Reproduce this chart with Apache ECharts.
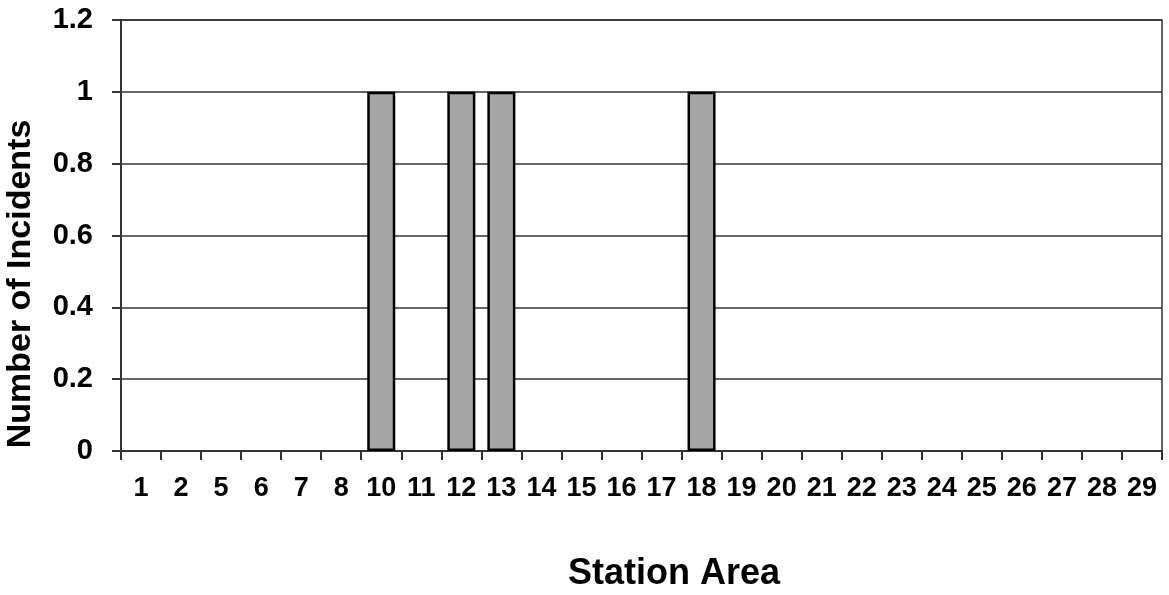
<!DOCTYPE html>
<html>
<head>
<meta charset="utf-8">
<script src="https://cdn.jsdelivr.net/npm/echarts@6/dist/echarts.min.js"></script>
<style>
  html, body { margin: 0; padding: 0; background: #fff; }
  #chart { width: 1169px; height: 595px; }
</style>
</head>
<body>
<div id="chart"></div>
<script>
// station areas along the bottom
var stations = ['1','2','5','6','7','8','10','11','12','13','14','15','16','17','18','19','20','21','22','23','24','25','26','27','28','29'];
// number of incidents per station area
var incidents = [0,0,0,0,0,0,1,0,1,1,0,0,0,0,1,0,0,0,0,0,0,0,0,0,0,0];

var mychart = echarts.init(document.getElementById('chart'));

var option = {
    animation: false,
    backgroundColor: '#fff',
    grid: {
        left: 121,
        right: 7,
        top: 20,
        bottom: 144,
        show: true,
        borderColor: '#333',
        borderWidth: 1.5
    },
    // axis titles, placed like the original (y title sits below the middle)
    graphic: [
        {
            type: 'text',
            x: 674,
            y: 574,
            style: {
                text: 'Station Area',
                fill: '#000',
                font: 'bold 36px "Liberation Sans"',
                textAlign: 'center',
                textVerticalAlign: 'middle'
            }
        },
        {
            type: 'text',
            x: 21,
            y: 284,
            rotation: Math.PI / 2,
            style: {
                text: 'Number of Incidents',
                fill: '#000',
                font: 'bold 34px "Liberation Sans"',
                textAlign: 'center',
                textVerticalAlign: 'middle'
            }
        }
    ],
    xAxis: {
        type: 'category',
        data: stations,
        axisLine: { lineStyle: { color: '#333', width: 2 } },
        axisTick: { show: true, length: 9, lineStyle: { color: '#333', width: 2 } },
        axisLabel: {
            color: '#000',
            fontSize: 27,
            fontWeight: 'bold',
            fontFamily: 'Liberation Sans',
            margin: 24,
            interval: 0
        }
    },
    yAxis: {
        type: 'value',
        min: 0,
        max: 1.2,
        interval: 0.2,
        axisLine: { show: true, lineStyle: { color: '#333', width: 2 } },
        axisTick: { show: true, length: 9, lineStyle: { color: '#333', width: 2 } },
        splitLine: { lineStyle: { color: '#333', width: 1.5 } },
        axisLabel: {
            color: '#000',
            fontSize: 29,
            fontWeight: 'bold',
            fontFamily: 'Liberation Sans',
            margin: 28
        }
    },
    series: [{
        type: 'bar',
        barWidth: '70%',
        data: incidents.map(function (v) { return v === 0 ? '-' : v; }),
        itemStyle: {
            color: '#a6a6a6',
            borderColor: '#000',
            borderWidth: 2.5
        }
    }]
};
mychart.setOption(option);
</script>
</body>
</html>
